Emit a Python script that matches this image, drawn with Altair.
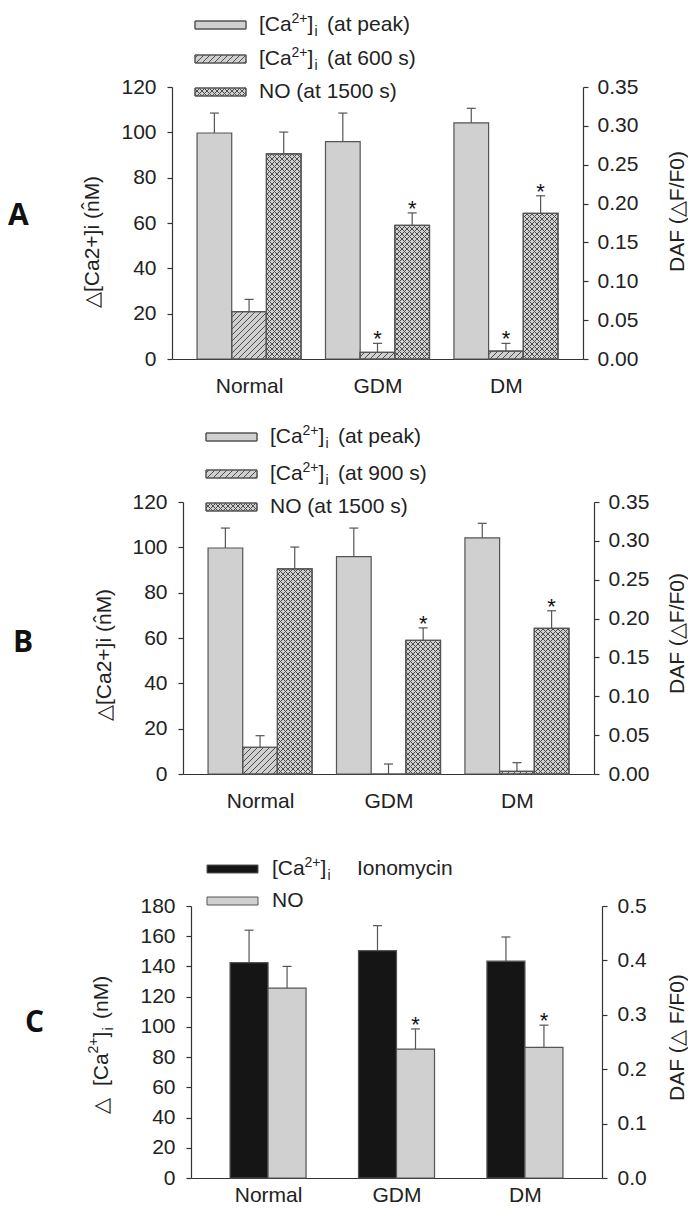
import altair as alt
import numpy as np
import pandas as pd

# ---------------- data ----------------
groups = ["Normal", "GDM", "DM"]

# Panel A
a_peak = [99.7, 95.9, 104.2]
a_peak_err = [8.8, 12.6, 6.4]
a_600 = [20.9, 2.9, 3.5]
a_600_err = [5.4, 4.0, 3.4]
a_600_star = [0, 1, 1]
a_no = [0.264, 0.172, 0.1875]
a_no_err = [0.028, 0.016, 0.0225]
a_no_star = [0, 1, 1]
a_legend = ["(at peak)", "(at 600 s)", "NO (at 1500 s)"]

# Panel B
b_peak = [99.7, 95.9, 104.2]
b_peak_err = [8.8, 12.6, 6.4]
b_900 = [11.8, 0.0, 1.2]
b_900_err = [5.1, 4.4, 3.8]
b_900_star = [0, 0, 0]
b_no = [0.264, 0.172, 0.1875]
b_no_err = [0.028, 0.016, 0.0225]
b_no_star = [0, 1, 1]
b_legend = ["(at peak)", "(at 900 s)", "NO (at 1500 s)"]

# Panel C
c_ca = [142.5, 150.5, 143.5]
c_ca_err = [21.5, 16.5, 16.0]
c_ca_star = [0, 0, 0]
c_no = [0.349, 0.237, 0.240]
c_no_err = [0.040, 0.037, 0.041]
c_no_star = [0, 1, 1]
c_legend = ["", "NO"]
c_legend_extra = "Ionomycin"

left_ticks_ab = [0, 20, 40, 60, 80, 100, 120]
right_ticks_ab = [0.0, 0.05, 0.10, 0.15, 0.20, 0.25, 0.30, 0.35]
left_ticks_c = [0, 20, 40, 60, 80, 100, 120, 140, 160, 180]
right_ticks_c = [0.0, 0.1, 0.2, 0.3, 0.4, 0.5]

title_left_ab = "△[Ca2+]i (n\u0302M)"
title_right_ab = "DAF (△F/F0)"
title_right_c = "DAF (△ F/F0)"

# ---------------- style ----------------
W, H = 411, 272
XMAX = 3.2
KX = W / XMAX
FONT = "Liberation Sans"
LIGHT = "#d0d0d0"
EDGE = "#555555"
HATCH = "#4d4d4d"
INK = "#222222"


def ca_pieces(suffix, sup=-6):
    """[Ca2+]i with real superscript / subscript pieces: (text, size, raise, advance)."""
    p = [("[Ca", 21, 0, 0), ("2+", 14, sup, 32.5), ("]", 21, 0, 48.5), ("i", 14, 7, 55.5)]
    if suffix:
        p.append((suffix, 21, 0, 68))
    return p


def xscale(shift):
    return alt.Scale(domain=[0, XMAX], nice=False, zero=False, range=[shift, W + shift])


def yscale(ymax):
    return alt.Scale(domain=[0, ymax], nice=False, zero=True)


def bar_table(values, errs, stars, k, n, w):
    off = (k - (n - 1) / 2) * w
    xc = [g + 0.6 + off for g in range(len(groups))]
    cap = 4.5 / KX
    return pd.DataFrame({
        "group": groups,
        "xc": xc,
        "x0": [c - w / 2 for c in xc],
        "x1": [c + w / 2 for c in xc],
        "cx0": [c - cap for c in xc],
        "cx1": [c + cap for c in xc],
        "v": values,
        "top": [v + e for v, e in zip(values, errs)],
        "base": 0.0,
        "star": stars,
    })


def hatch_lines(x0, x1, y0, y1, s, dirs):
    segs = []
    for d in dirs:
        if d > 0:
            cmin, cmax = y0 - x1, y1 - x0
        else:
            cmin, cmax = y0 + x0, y1 + x1
        c = np.ceil(cmin / s) * s
        while c < cmax:
            if d > 0:
                a, b = max(x0, y0 - c), min(x1, y1 - c)
                if b - a > 0.3:
                    segs.append((a, b, a + c, b + c))
            else:
                a, b = max(x0, c - y1), min(x1, c - y0)
                if b - a > 0.3:
                    segs.append((a, b, c - a, c - b))
            c += s
    return segs


def hatch_table(df, ymax, s, dirs):
    ky = H / ymax
    rows = []
    for r in df.itertuples():
        if r.v <= 0:
            continue
        for a, b, ya, yb in hatch_lines(r.x0 * KX, r.x1 * KX, 0.0, r.v * ky, s, dirs):
            rows.append({"hx": a / KX, "hx2": b / KX, "hy": ya / ky, "hy2": yb / ky})
    return pd.DataFrame(rows, columns=["hx", "hx2", "hy", "hy2"])


X_EXPR = "[" + ",".join("'%s'" % g for g in groups) + "][round(datum.value - 0.6)]"


def x_axis(pad):
    return alt.Axis(values=[0.6, 1.6, 2.6], labelExpr=X_EXPR, ticks=False, grid=False,
                    title=None, labelFontSize=21, labelPadding=pad, labelFont=FONT,
                    labelColor=INK, domainColor="#333333", domainWidth=1.2)


def y_axis(values, orient, fmt, pad, offset=0):
    return alt.Axis(values=values, orient=orient, format=fmt, grid=False, title=None,
                    labelFontSize=21, labelFont=FONT, labelColor=INK, tickSize=5,
                    labelPadding=pad, domainColor="#333333", tickColor="#333333",
                    domainWidth=1.2, tickWidth=1.2, labelFlush=False, labelOverlap=False,
                    offset=offset)


def series(df, ymax, xs, xaxis, yaxis, fill, pattern=None, spacing=5):
    ys = yscale(ymax)

    def X(f):
        return alt.X(f + ":Q", scale=xs, axis=xaxis)

    def Y(f):
        return alt.Y(f + ":Q", scale=ys, axis=yaxis)

    layers = [
        alt.Chart(df).mark_rect(fill=fill, stroke=EDGE, strokeWidth=1.2).encode(
            x=X("x0"), x2="x1", y=Y("v"), y2="base")
    ]
    if pattern:
        ht = hatch_table(df, ymax, spacing, pattern)
        layers.append(alt.Chart(ht).mark_rule(color=HATCH, strokeWidth=1).encode(
            x=X("hx"), x2="hx2", y=Y("hy"), y2="hy2"))
        layers.append(alt.Chart(df).mark_rect(fill="transparent", stroke=EDGE, strokeWidth=1.2).encode(
            x=X("x0"), x2="x1", y=Y("v"), y2="base"))
    layers.append(alt.Chart(df).mark_rule(color=EDGE, strokeWidth=1.2).encode(
        x=X("xc"), y=Y("v"), y2="top"))
    layers.append(alt.Chart(df).mark_rule(color=EDGE, strokeWidth=1.2).encode(
        x=X("cx0"), x2="cx1", y=Y("top")))
    layers.append(alt.Chart(df).transform_filter("datum.star == 1").mark_text(
        text="*", fontSize=22, font=FONT, color="#111111", baseline="middle", dy=-4).encode(
        x=X("xc"), y=Y("top")))
    return alt.layer(*layers)


def overlay(ymax, xs, xaxis, yaxis, legend_rows, letter, letter_xy, ltitle, rtitle, headroom=None):
    """Legend, panel letter and axis titles; offsets are pixels from the left axis line /
    plot top, converted to the panel's own x / left-y data units."""
    ys = yscale(ymax)
    ky = H / ymax

    def dx(px):
        return px / KX

    def dy(py):
        return ymax - py / ky

    def enc():
        return dict(x=alt.X("x:Q", scale=xs, axis=xaxis), y=alt.Y("y:Q", scale=ys, axis=yaxis))

    sw_rows, hatch_rows, txt_rows = [], [], []
    for pieces, fill, pattern, sp, cy, sx, tx in legend_rows:
        L, R, T, B = sx, sx + 51, cy - 4, cy + 4
        sw_rows.append({"x": dx(L), "x2": dx(R), "y": dy(T), "y2": dy(B), "col": fill})
        if pattern:
            for a, b, ya, yb in hatch_lines(L, R, 0.0, B - T, sp, pattern):
                hatch_rows.append({"x": dx(a), "x2": dx(b), "y": dy(B - ya), "y2": dy(B - yb)})
        for text, fs, rise, adv in pieces:
            txt_rows.append({"x": dx(tx + adv), "y": dy(cy + rise), "label": text, "fs": fs})
    if headroom is not None:
        # blank spacer that keeps the top legend line clear of the page edge
        txt_rows.append({"x": dx(headroom[0]), "y": dy(headroom[1]), "label": " ", "fs": 1})
    sw = pd.DataFrame(sw_rows)
    layers = [
        alt.Chart(sw).mark_rect(stroke=EDGE, strokeWidth=1).encode(
            x2="x2", y2="y2", fill=alt.Fill("col:N", scale=None), **enc()),
    ]
    if hatch_rows:
        layers.append(alt.Chart(pd.DataFrame(hatch_rows)).mark_rule(color=HATCH, strokeWidth=1).encode(
            x2="x2", y2="y2", **enc()))
        layers.append(alt.Chart(sw).mark_rect(fill="transparent", stroke=EDGE, strokeWidth=1).encode(
            x2="x2", y2="y2", **enc()))
    layers.append(alt.Chart(pd.DataFrame(txt_rows)).mark_text(
        align="left", baseline="middle", font=FONT, color=INK).encode(
        text="label:N", size=alt.Size("fs:Q", scale=None), **enc()))
    layers.append(alt.Chart(pd.DataFrame([{"x": dx(letter_xy[0]), "y": dy(letter_xy[1]), "label": letter}])).mark_text(
        align="left", baseline="middle", fontSize=30, font="Open Sans", fontWeight="bold", color="#111111").encode(
        text="label:N", **enc()))
    # rotated axis titles, written bottom-to-top from a start point
    rot = []
    for pieces, (x0, y0) in (ltitle, rtitle):
        for text, fs, rise, adv in pieces:
            rot.append({"x": dx(x0 + rise), "y": dy(y0 - adv), "label": text, "fs": fs})
    layers.append(alt.Chart(pd.DataFrame(rot)).mark_text(
        align="left", baseline="middle", angle=270, font=FONT, color=INK).encode(
        text="label:N", size=alt.Size("fs:Q", scale=None), **enc()))
    return alt.layer(*layers)


def panel(left_series, right_series, ov, shift):
    return alt.layer(alt.layer(*left_series, ov), right_series).resolve_scale(
        y="independent").properties(width=W + shift, height=H)


# ---------------- panel A ----------------
wA = 0.27
sA = 0
xsA, xaA = xscale(sA), x_axis(16)
axL_A = y_axis(left_ticks_ab, "left", "d", 11, -sA)
axR_A = y_axis(right_ticks_ab, "right", ".2f", 9)
dA1 = bar_table(a_peak, a_peak_err, [0, 0, 0], 0, 3, wA)
dA2 = bar_table(a_600, a_600_err, a_600_star, 1, 3, wA)
dA3 = bar_table(a_no, a_no_err, a_no_star, 2, 3, wA)
panelA = panel(
    [series(dA1, 120, xsA, xaA, axL_A, LIGHT),
     series(dA2, 120, xsA, xaA, axL_A, LIGHT, pattern=[1], spacing=6)],
    series(dA3, 0.35, xsA, xaA, axR_A, LIGHT, pattern=[1, -1], spacing=5),
    overlay(120, xsA, xaA, axL_A,
            [(ca_pieces(a_legend[0]), LIGHT, None, 0, -62, 23, 87),
             (ca_pieces(a_legend[1]), LIGHT, [1], 6, -28, 23, 87),
             ([(a_legend[2], 21, 0, 0)], LIGHT, [1, -1], 5, 5, 23, 87)],
            "A", (-164, 129),
            ([(title_left_ab, 21, 0, 0)], (-79, 221)),
            ([(title_right_ab, 21, 0, 0)], (506, 185)),
            headroom=(120, -77.5)),
    sA,
)

# ---------------- panel B ----------------
sB = 11
xsB, xaB = xscale(sB), x_axis(16)
axL_B = y_axis(left_ticks_ab, "left", "d", 11, -sB)
axR_B = y_axis(right_ticks_ab, "right", ".2f", 9)
dB1 = bar_table(b_peak, b_peak_err, [0, 0, 0], 0, 3, wA)
dB2 = bar_table(b_900, b_900_err, b_900_star, 1, 3, wA)
dB3 = bar_table(b_no, b_no_err, b_no_star, 2, 3, wA)
panelB = panel(
    [series(dB1, 120, xsB, xaB, axL_B, LIGHT),
     series(dB2, 120, xsB, xaB, axL_B, LIGHT, pattern=[1], spacing=6)],
    series(dB3, 0.35, xsB, xaB, axR_B, LIGHT, pattern=[1, -1], spacing=5),
    overlay(120, xsB, xaB, axL_B,
            [(ca_pieces(b_legend[0]), LIGHT, None, 0, -65, 23, 87),
             (ca_pieces(b_legend[1]), LIGHT, [1], 6, -28, 23, 87),
             ([(b_legend[2], 21, 0, 0)], LIGHT, [1, -1], 5, 5, 23, 87)],
            "B", (-170, 141),
            ([(title_left_ab, 21, 0, 0)], (-78, 219)),
            ([(title_right_ab, 21, 0, 0)], (495, 192))),
    sB,
)

# ---------------- panel C ----------------
wC = 0.296
sC = 19
xsC, xaC = xscale(sC), x_axis(6)
axL_C = y_axis(left_ticks_c, "left", "d", 11, -sC)
axR_C = y_axis(right_ticks_c, "right", ".1f", 10)
dC1 = bar_table(c_ca, c_ca_err, c_ca_star, 0, 2, wC)
dC2 = bar_table(c_no, c_no_err, c_no_star, 1, 2, wC)
c_title_pieces = ([("△", 21, 0, 0)]
                  + [(t, f, r, a + 28) for t, f, r, a in ca_pieces("", sup=-8)]
                  + [("(nM)", 21, 0, 95)])
panelC = panel(
    [series(dC1, 180, xsC, xaC, axL_C, "#151515")],
    series(dC2, 0.5, xsC, xaC, axR_C, LIGHT),
    overlay(180, xsC, xaC, axL_C,
            [(ca_pieces("") + [(c_legend_extra, 21, 0, 85)], "#151515", None, 0, -37, 16, 81),
             ([(c_legend[1], 21, 0, 0)], LIGHT, None, 0, -5, 16, 81)],
            "C", (-166, 117),
            (c_title_pieces, (-89, 208)),
            ([(title_right_c, 21, 0, 0)], (487, 195))),
    sC,
)

chart = alt.concat(
    alt.concat(panelA, panelB, columns=1, align="none", spacing=28),
    panelC,
    columns=1, align="none", spacing=44,
).properties(padding=0).configure_view(stroke=None)

chart.save("out.html", embed_options={"renderer": "svg", "actions": False})
